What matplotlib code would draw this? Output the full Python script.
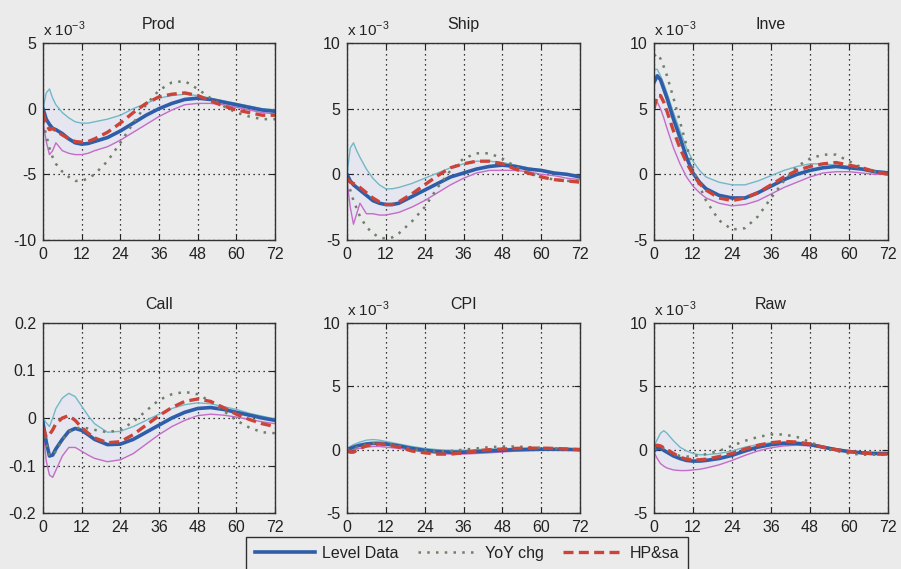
import matplotlib
matplotlib.use("Agg")
import matplotlib.pyplot as plt
import numpy as np

plt.rcParams['font.family'] = ['Liberation Sans', 'DejaVu Sans']
plt.rcParams['mathtext.fontset'] = 'custom'
plt.rcParams['mathtext.rm'] = 'Liberation Sans'

# months after the shock
months = [0, 1, 2, 3, 4, 6, 8, 10, 12, 14, 16, 20, 24, 28, 32, 36, 40, 44, 48, 52, 56, 60, 64, 68, 72]

# Prod (x 1e-3)
prod_level = [0, -0.8, -1.2, -1.5, -1.6, -1.9, -2.3, -2.6, -2.7, -2.65, -2.5, -2.2, -1.7, -1.1, -0.5, 0.0, 0.4, 0.7, 0.8, 0.7, 0.5, 0.3, 0.1, -0.1, -0.2]
prod_upper = [0, 1.2, 1.5, 0.8, 0.3, -0.3, -0.7, -1.0, -1.1, -1.1, -1.0, -0.8, -0.5, 0.0, 0.4, 0.8, 1.0, 1.1, 1.0, 0.8, 0.6, 0.4, 0.2, 0.0, -0.1]
prod_lower = [-1, -2.5, -3.5, -3.2, -2.6, -3.2, -3.4, -3.5, -3.5, -3.4, -3.2, -2.9, -2.4, -1.8, -1.2, -0.6, -0.1, 0.3, 0.4, 0.4, 0.3, 0.1, -0.1, -0.3, -0.4]
prod_yoy = [-1, -2, -3, -3.7, -4.2, -4.8, -5.2, -5.5, -5.5, -5.3, -5.0, -4.0, -2.6, -1.1, 0.3, 1.4, 2.0, 2.1, 1.5, 0.8, 0.2, -0.3, -0.6, -0.8, -0.8]
prod_hp = [-0.3, -1.2, -1.6, -1.5, -1.7, -2.0, -2.3, -2.5, -2.55, -2.5, -2.3, -1.8, -1.1, -0.3, 0.4, 0.9, 1.1, 1.2, 1.0, 0.6, 0.2, -0.1, -0.3, -0.5, -0.5]

# Ship (x 1e-3)
ship_level = [0, -0.5, -0.8, -1.0, -1.2, -1.6, -2.0, -2.2, -2.3, -2.3, -2.2, -1.7, -1.2, -0.7, -0.2, 0.1, 0.4, 0.6, 0.7, 0.6, 0.4, 0.3, 0.1, 0.0, -0.2]
ship_upper = [0, 2.0, 2.4, 1.8, 1.3, 0.4, -0.3, -0.8, -1.1, -1.1, -1.0, -0.7, -0.3, 0.1, 0.5, 0.8, 1.0, 1.0, 0.9, 0.7, 0.5, 0.3, 0.1, 0.0, -0.1]
ship_lower = [-0.5, -2.5, -3.8, -3.0, -2.2, -3.0, -3.0, -3.1, -3.1, -3.0, -2.9, -2.5, -2.0, -1.4, -0.8, -0.3, 0.1, 0.3, 0.3, 0.3, 0.2, 0.0, -0.1, -0.3, -0.4]
ship_yoy = [-0.5, -1.2, -2.0, -2.6, -3.2, -4.0, -4.5, -4.8, -4.9, -4.8, -4.5, -3.6, -2.5, -1.0, 0.3, 1.2, 1.6, 1.6, 1.2, 0.6, 0.1, -0.2, -0.4, -0.5, -0.5]
ship_hp = [-0.3, -0.6, -0.7, -0.8, -1.0, -1.4, -1.8, -2.1, -2.3, -2.3, -2.1, -1.5, -0.8, -0.1, 0.5, 0.8, 1.0, 1.0, 0.8, 0.4, 0.1, -0.2, -0.4, -0.5, -0.6]

# Inve (x 1e-3)
inve_level = [7.0, 7.5, 7.2, 6.5, 5.8, 4.2, 2.8, 1.3, 0.1, -0.6, -1.1, -1.6, -1.8, -1.8, -1.4, -0.9, -0.4, 0.0, 0.3, 0.5, 0.6, 0.5, 0.4, 0.2, 0.1]
inve_upper = [8.0, 8.0, 7.5, 6.9, 6.2, 4.7, 3.3, 2.0, 1.0, 0.3, -0.2, -0.6, -0.8, -0.8, -0.5, -0.1, 0.3, 0.6, 0.8, 0.8, 0.7, 0.6, 0.4, 0.3, 0.2]
inve_lower = [5.5, 5.5, 5.0, 4.3, 3.5, 2.0, 0.8, -0.2, -0.9, -1.4, -1.8, -2.2, -2.4, -2.3, -2.0, -1.5, -1.0, -0.6, -0.2, 0.1, 0.2, 0.2, 0.1, 0.0, 0.0]
inve_yoy = [9.0, 9.2, 8.8, 8.2, 7.5, 5.8, 4.0, 2.2, 0.5, -0.9, -2.0, -3.5, -4.2, -4.1, -3.2, -1.8, -0.5, 0.6, 1.2, 1.5, 1.5, 1.0, 0.5, 0.2, 0.0]
inve_hp = [5.0, 6.0, 6.0, 5.5, 4.8, 3.3, 2.0, 0.9, 0.0, -0.7, -1.2, -1.8, -2.0, -1.8, -1.4, -0.8, -0.2, 0.3, 0.6, 0.8, 0.9, 0.7, 0.5, 0.2, 0.0]

# Call (raw units)
call_level = [-0.01, -0.05, -0.08, -0.078, -0.065, -0.045, -0.028, -0.022, -0.026, -0.035, -0.045, -0.056, -0.055, -0.045, -0.03, -0.015, 0.0, 0.012, 0.02, 0.022, 0.018, 0.012, 0.006, 0.0, -0.005]
call_upper = [0.0, -0.01, -0.018, 0.0, 0.02, 0.042, 0.052, 0.045, 0.025, 0.005, -0.012, -0.03, -0.028, -0.018, -0.005, 0.008, 0.02, 0.028, 0.032, 0.03, 0.024, 0.018, 0.01, 0.004, -0.002]
call_lower = [-0.02, -0.09, -0.12, -0.125, -0.11, -0.08, -0.062, -0.062, -0.07, -0.078, -0.085, -0.092, -0.088, -0.075, -0.055, -0.035, -0.018, -0.005, 0.005, 0.008, 0.006, 0.002, -0.003, -0.008, -0.012]
call_yoy = [-0.02, -0.05, -0.08, -0.078, -0.07, -0.045, -0.03, -0.022, -0.02, -0.022, -0.025, -0.03, -0.025, -0.008, 0.015, 0.038, 0.05, 0.055, 0.05, 0.035, 0.015, -0.005, -0.02, -0.03, -0.032]
call_hp = [-0.02, -0.04, -0.035, -0.025, -0.012, 0.0, 0.005, -0.005, -0.02, -0.032, -0.042, -0.052, -0.05, -0.035, -0.015, 0.005, 0.022, 0.035, 0.04, 0.035, 0.022, 0.008, -0.003, -0.012, -0.018]

# CPI (x 1e-3)
cpi_level = [0, 0.1, 0.2, 0.28, 0.35, 0.45, 0.5, 0.5, 0.45, 0.38, 0.3, 0.1, -0.05, -0.15, -0.2, -0.2, -0.15, -0.1, -0.05, 0.0, 0.02, 0.03, 0.03, 0.02, 0.0]
cpi_upper = [0.1, 0.25, 0.4, 0.5, 0.6, 0.75, 0.8, 0.75, 0.65, 0.55, 0.45, 0.25, 0.1, 0.0, -0.05, -0.05, 0.0, 0.05, 0.08, 0.1, 0.1, 0.1, 0.08, 0.06, 0.05]
cpi_lower = [-0.1, -0.05, 0.0, 0.05, 0.1, 0.2, 0.25, 0.25, 0.2, 0.15, 0.1, -0.05, -0.2, -0.3, -0.35, -0.35, -0.3, -0.25, -0.18, -0.12, -0.08, -0.05, -0.04, -0.04, -0.05]
cpi_yoy = [0, 0.05, 0.1, 0.18, 0.25, 0.4, 0.5, 0.55, 0.5, 0.4, 0.3, 0.05, -0.1, -0.15, -0.1, 0.0, 0.1, 0.2, 0.25, 0.25, 0.2, 0.15, 0.1, 0.05, 0.0]
cpi_hp = [-0.1, -0.2, -0.2, -0.05, 0.1, 0.3, 0.4, 0.45, 0.4, 0.3, 0.2, -0.1, -0.25, -0.35, -0.35, -0.25, -0.1, 0.0, 0.05, 0.1, 0.12, 0.12, 0.1, 0.05, 0.0]

# Raw (x 1e-3)
raw_level = [-0.1, 0.1, 0.1, -0.05, -0.2, -0.5, -0.7, -0.85, -0.9, -0.9, -0.85, -0.7, -0.45, -0.1, 0.2, 0.4, 0.5, 0.5, 0.4, 0.2, 0.0, -0.15, -0.25, -0.3, -0.3]
raw_upper = [0.3, 0.8, 1.3, 1.5, 1.3, 0.7, 0.2, -0.1, -0.3, -0.4, -0.4, -0.3, -0.1, 0.2, 0.4, 0.55, 0.6, 0.55, 0.45, 0.25, 0.05, -0.1, -0.2, -0.25, -0.25]
raw_lower = [-0.2, -0.7, -1.1, -1.3, -1.45, -1.6, -1.65, -1.65, -1.6, -1.55, -1.45, -1.2, -0.85, -0.45, -0.1, 0.15, 0.3, 0.35, 0.3, 0.15, -0.05, -0.2, -0.3, -0.35, -0.35]
raw_yoy = [0.0, 0.15, 0.2, 0.1, 0.0, -0.3, -0.5, -0.55, -0.5, -0.45, -0.35, -0.1, 0.3, 0.7, 1.0, 1.2, 1.2, 1.0, 0.6, 0.2, -0.1, -0.3, -0.4, -0.4, -0.4]
raw_hp = [0.3, 0.35, 0.3, 0.15, 0.0, -0.3, -0.6, -0.75, -0.8, -0.8, -0.75, -0.55, -0.3, 0.05, 0.35, 0.55, 0.65, 0.6, 0.45, 0.2, 0.0, -0.15, -0.25, -0.35, -0.35]

titles = ['Prod', 'Ship', 'Inve', 'Call', 'CPI', 'Raw']
series = [
    (prod_level, prod_upper, prod_lower, prod_yoy, prod_hp),
    (ship_level, ship_upper, ship_lower, ship_yoy, ship_hp),
    (inve_level, inve_upper, inve_lower, inve_yoy, inve_hp),
    (call_level, call_upper, call_lower, call_yoy, call_hp),
    (cpi_level, cpi_upper, cpi_lower, cpi_yoy, cpi_hp),
    (raw_level, raw_upper, raw_lower, raw_yoy, raw_hp),
]
ylims = [(-10, 5), (-5, 10), (-5, 10), (-0.2, 0.2), (-5, 10), (-5, 10)]
ysteps = [5, 5, 5, 0.1, 5, 5]
scaled = [True, True, True, False, True, True]
legend_labels = ['Level Data', 'YoY chg', 'HP&sa']

bg = '#ebebeb'
W, H = 901, 569
fig = plt.figure(figsize=(W / 100, H / 100), dpi=100, facecolor=bg)

# axes boxes in pixels: left, top, right, bottom
boxes = [(43, 43, 275, 240), (347, 43, 580, 240), (654, 43, 888, 240),
         (43, 323, 275, 513), (347, 323, 580, 513), (654, 323, 888, 513)]


def fmt(v):
    # matlab style: 0 instead of 0.0, plain hyphen minus
    if abs(v) < 1e-9:
        return '0'
    return '%g' % round(v, 3)


handles = []
for i, (l, t, r, b) in enumerate(boxes):
    ax = fig.add_axes([l / W, 1 - b / H, (r - l) / W, (b - t) / H], facecolor=bg)
    level, upper, lower, yoy, hp = [np.array(s) for s in series[i]]
    ax.fill_between(months, lower, upper, color='#e5e6ef', lw=0)
    ax.plot(months, upper, color='#72b8c8', lw=1)
    ax.plot(months, lower, color='#c46cc8', lw=1)
    h1, = ax.plot(months, level, color='#2f5ea8', lw=2.6)
    h2, = ax.plot(months, yoy, color='#6f7f6a', lw=1.8, ls=(0, (1, 2.5)))
    h3, = ax.plot(months, hp, color='#cc4438', lw=2.4, ls=(0, (3, 1.6)))
    if i == 0:
        handles = [h1, h2, h3]
    ax.set_xlim(0, 72)
    ax.set_xticks(range(0, 73, 12))
    lo, hi = ylims[i]
    ax.set_ylim(lo, hi)
    yt = np.arange(lo, hi + ysteps[i] / 2, ysteps[i])
    ax.set_yticks(yt)
    ax.set_yticklabels([fmt(v) for v in yt])
    if scaled[i]:
        ax.text(0, 1.02, r'x 10$^{\mathrm{-3}}$', transform=ax.transAxes,
                fontsize=11, color='#222222', ha='left', va='bottom')
    ax.grid(True, color='black', ls=(0, (1, 3)), lw=0.9)
    ax.tick_params(direction='in', top=True, right=True, length=4,
                   labelsize=11.5, colors='#222222', pad=5)
    for sp in ax.spines.values():
        sp.set_color('#333333')
        sp.set_linewidth(1.0)
    ax.set_title(titles[i], fontsize=11.5, color='#222222', pad=10)

leg = fig.legend(handles, legend_labels, loc='upper left',
                 bbox_to_anchor=(246 / W, 1 - 537 / H), ncol=3,
                 fontsize=11.5, frameon=True, fancybox=False,
                 handlelength=3.8, handletextpad=0.4, columnspacing=1.2,
                 borderpad=0.55, borderaxespad=0, facecolor=bg,
                 edgecolor='black')
leg.get_frame().set_linewidth(1.0)
for txt in leg.get_texts():
    txt.set_color('#222222')

fig.savefig('out.png', dpi=100, facecolor=bg)
